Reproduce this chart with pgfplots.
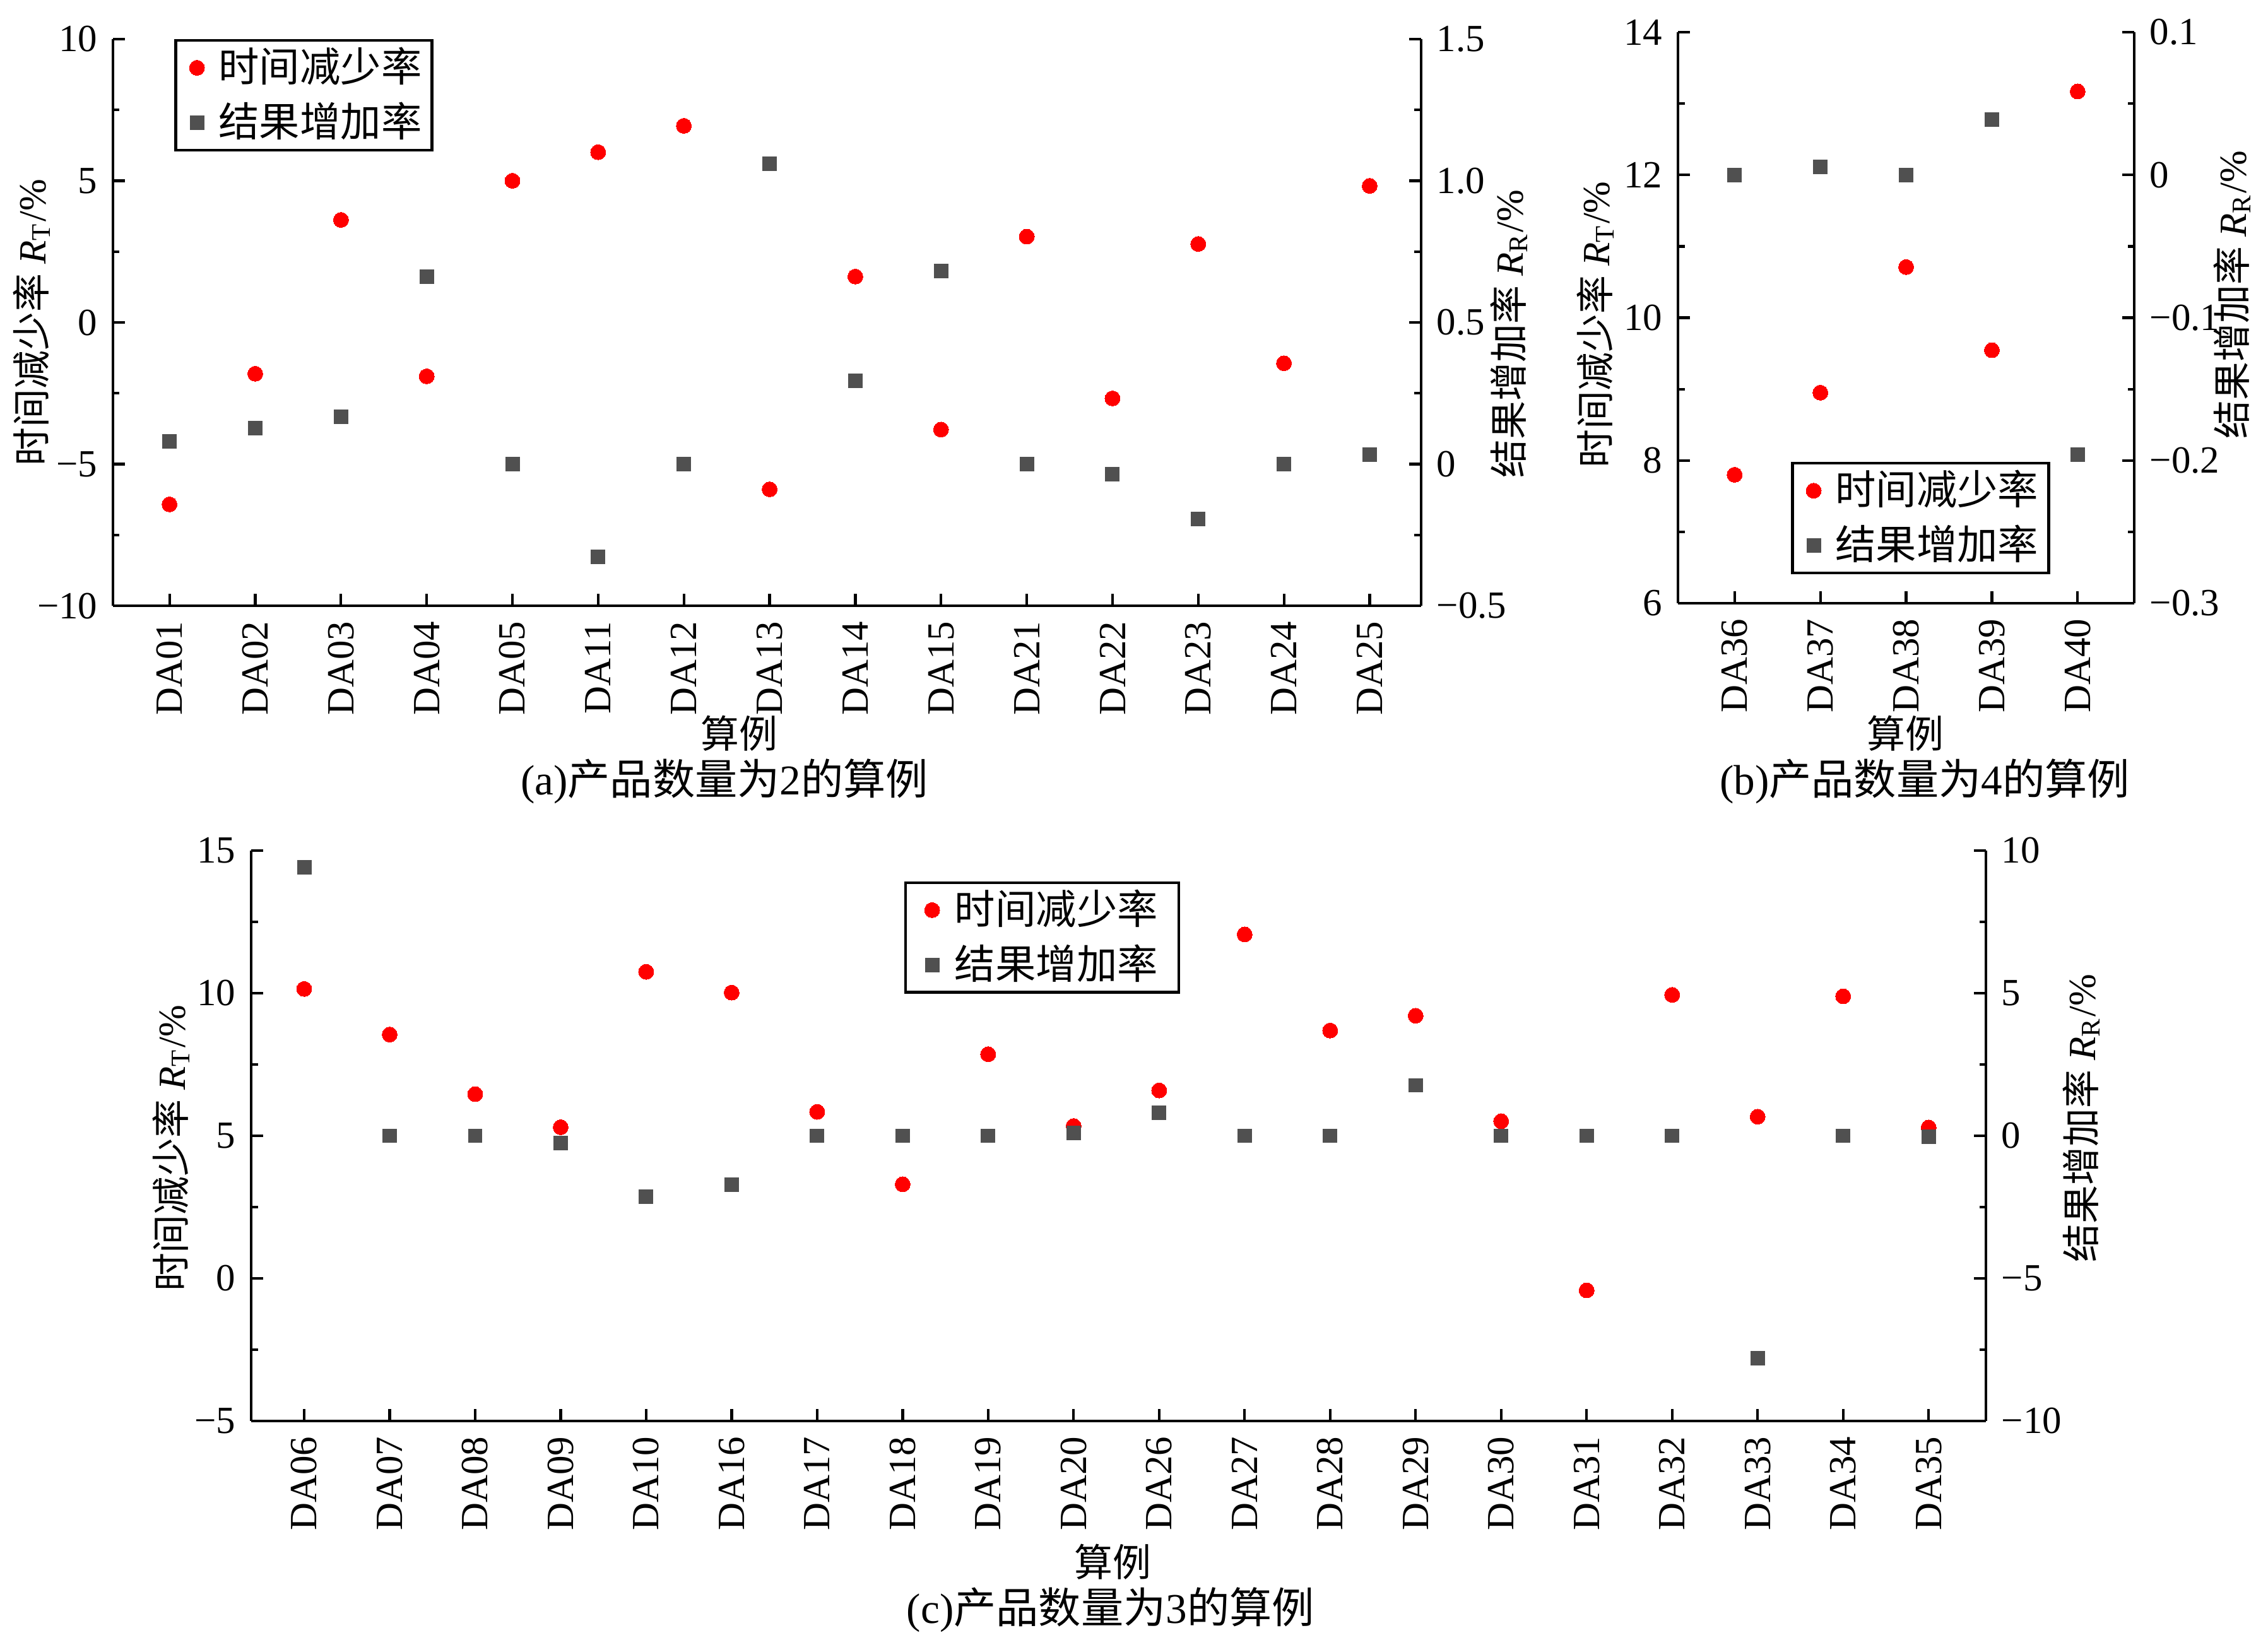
\documentclass[border=0pt]{standalone}
\usepackage{fontspec}
\setmainfont{Liberation Serif}
\newfontfamily\cjk{Noto Sans CJK SC}
\usepackage{pgfplots}
\pgfplotsset{compat=1.18}
\definecolor{myred}{RGB}{255,0,0}
\definecolor{mygray}{RGB}{80,80,80}
\newcommand\fs{\fontsize{8.7}{10.4}\selectfont}
\newcommand\fl{\fontsize{9.2}{11}\selectfont}
\newcommand\fc{\fontsize{9.6}{11.5}\selectfont}
\pgfplotsset{
  base/.style={scale only axis, axis line style={line width=0.6pt,-}, tick align=inside,
    major tick length=2.7pt, minor tick length=1.5pt,
    major tick style={line width=0.6pt, black}, minor tick style={line width=0.6pt, black},
    tick label style={font=\fs}, label style={font=\fs},
    minor y tick num=1, clip=false},
  lft/.style={base, axis x line*=bottom, axis y line*=left, x tick label style={rotate=90, anchor=east}},
  rgt/.style={base, axis x line=none, axis y line*=right, xtick=\empty},
  rtser/.style={only marks, mark=*, mark size=1.71pt, color=myred, mark options={fill=myred, line width=0pt}},
  rrser/.style={only marks, mark=square*, mark size=1.57pt, color=mygray, mark options={fill=mygray, line width=0pt}},
  leg/.style={legend style={draw=black, line width=0.6pt, font=\fl, inner xsep=1.5pt, inner ysep=0pt,
      row sep=0pt, column sep=0pt, nodes={inner xsep=0.8pt, inner ysep=1.55pt}},
    legend cell align=left,
    legend image code/.code={\path (0pt,0pt) (6.8pt,0pt); \draw[##1] plot coordinates {(3.0pt,0pt)};}}
}
\newcommand\ylT{{\cjk 时间减少率} \textit{R}\textsubscript{T}/\%}
\newcommand\ylR{{\cjk 结果增加率} \textit{R}\textsubscript{R}/\%}
\begin{document}
\begin{tikzpicture}
\path[use as bounding box] (0,0) rectangle (513.43pt,-372.29pt);
% ---------------- (a) ----------------
\begin{axis}[lft, at={(25.57pt,-8.86pt)}, anchor=north west, width=296.14pt, height=128.29pt,
  xmin=-0.66, xmax=14.6, ymin=-10, ymax=10,
  xtick={0,...,14}, xticklabels={DA01,DA02,DA03,DA04,DA05,DA11,DA12,DA13,DA14,DA15,DA21,DA22,DA23,DA24,DA25},
  ytick={-10,-5,0,5,10}, yticklabels={−10,−5,0,5,10},
  ylabel={\ylT}, ylabel style={at={(axis description cs:-0.062,0.5)}, anchor=center}]
\addplot[rtser] coordinates {(0,-6.42) (1,-1.81) (2,3.62) (3,-1.90) (4,5.00) (5,6.01) (6,6.94) (7,-5.89) (8,1.62) (9,-3.78) (10,3.03) (11,-2.68) (12,2.77) (13,-1.44) (14,4.82)};
\end{axis}
\begin{axis}[rgt, leg, at={(25.57pt,-8.86pt)}, anchor=north west, width=296.14pt, height=128.29pt,
  xmin=-0.66, xmax=14.6, ymin=-0.5, ymax=1.5,
  ytick={-0.5,0,0.5,1,1.5}, yticklabels={−0.5,0,0.5,1.0,1.5},
  ylabel={\ylR}, ylabel style={at={(axis description cs:1.067,0.48)}, anchor=center},
  legend style={at={(0.047,1)}, anchor=north west}]
\addlegendimage{rtser}
\addlegendentry{\cjk 时间减少率}
\addplot[rrser] coordinates {(0,0.081) (1,0.127) (2,0.168) (3,0.662) (4,0) (5,-0.327) (6,0) (7,1.061) (8,0.295) (9,0.681) (10,0) (11,-0.035) (12,-0.194) (13,0) (14,0.033)};
\addlegendentry{\cjk 结果增加率}
\end{axis}
\node[font=\fs] at (167.4pt,-166.0pt) {\cjk 算例};
\node[font=\fc] at (164.0pt,-176.9pt) {(a){\cjk 产品数量为}2{\cjk 的算例}};
% ---------------- (b) ----------------
\begin{axis}[lft, at={(379.86pt,-7.29pt)}, anchor=north west, width=103.29pt, height=129.29pt,
  xmin=-0.66, xmax=4.66, ymin=6, ymax=14,
  xtick={0,...,4}, xticklabels={DA36,DA37,DA38,DA39,DA40},
  ytick={6,8,10,12,14}, yticklabels={6,8,10,12,14},
  ylabel={\ylT}, ylabel style={at={(axis description cs:-0.181,0.488)}, anchor=center}]
\addplot[rtser] coordinates {(0,7.80) (1,8.95) (2,10.71) (3,9.545) (4,13.17)};
\end{axis}
\begin{axis}[rgt, leg, at={(379.86pt,-7.29pt)}, anchor=north west, width=103.29pt, height=129.29pt,
  xmin=-0.66, xmax=4.66, ymin=-0.3, ymax=0.1,
  ytick={-0.3,-0.2,-0.1,0,0.1}, yticklabels={−0.3,−0.2,−0.1,0,0.1},
  ylabel={\ylR}, ylabel style={at={(axis description cs:1.214,0.54)}, anchor=center},
  legend style={at={(0.248,0.051)}, anchor=south west}]
\addlegendimage{rtser}
\addlegendentry{\cjk 时间减少率}
\addplot[rrser] coordinates {(0,0) (1,0.0055) (2,0) (3,0.039) (4,-0.196)};
\addlegendentry{\cjk 结果增加率}
\end{axis}
\node[font=\fs] at (431.4pt,-166.0pt) {\cjk 算例};
\node[font=\fc] at (435.7pt,-176.9pt) {(b){\cjk 产品数量为}4{\cjk 的算例}};
% ---------------- (c) ----------------
\begin{axis}[lft, at={(56.86pt,-192.57pt)}, anchor=north west, width=392.71pt, height=129.14pt,
  xmin=-0.62, xmax=19.67, ymin=-5, ymax=15,
  xtick={0,...,19}, xticklabels={DA06,DA07,DA08,DA09,DA10,DA16,DA17,DA18,DA19,DA20,DA26,DA27,DA28,DA29,DA30,DA31,DA32,DA33,DA34,DA35},
  ytick={-5,0,5,10,15}, yticklabels={−5,0,5,10,15},
  ylabel={\ylT}, ylabel style={at={(axis description cs:-0.046,0.478)}, anchor=center}]
\addplot[rtser] coordinates {(0,10.15) (1,8.55) (2,6.46) (3,5.30) (4,10.75) (5,10.02) (6,5.84) (7,3.30) (8,7.86) (9,5.34) (10,6.59) (11,12.06) (12,8.69) (13,9.21) (14,5.51) (15,-0.42) (16,9.94) (17,5.67) (18,9.89) (19,5.29)};
\end{axis}
\begin{axis}[rgt, leg, at={(56.86pt,-192.57pt)}, anchor=north west, width=392.71pt, height=129.14pt,
  xmin=-0.62, xmax=19.67, ymin=-10, ymax=10,
  ytick={-10,-5,0,5,10}, yticklabels={−10,−5,0,5,10},
  ylabel={\ylR}, ylabel style={at={(axis description cs:1.055,0.531)}, anchor=center},
  legend style={at={(0.3765,0.946)}, anchor=north west, inner xsep=3.9pt},
  legend image code/.code={\path (0pt,0pt) (5.8pt,0pt); \draw[#1] plot coordinates {(1.8pt,0pt)};}]
\addlegendimage{rtser}
\addlegendentry{\cjk 时间减少率}
\addplot[rrser] coordinates {(0,9.41) (1,0) (2,0) (3,-0.26) (4,-2.14) (5,-1.71) (6,0) (7,0) (8,0) (9,0.09) (10,0.81) (11,0) (12,0) (13,1.77) (14,0) (15,0) (16,0) (17,-7.79) (18,0) (19,-0.04)};
\addlegendentry{\cjk 结果增加率}
\end{axis}
\node[font=\fs] at (251.9pt,-353.6pt) {\cjk 算例};
\node[font=\fc] at (251.4pt,-364.4pt) {(c){\cjk 产品数量为}3{\cjk 的算例}};
\end{tikzpicture}
\end{document}
